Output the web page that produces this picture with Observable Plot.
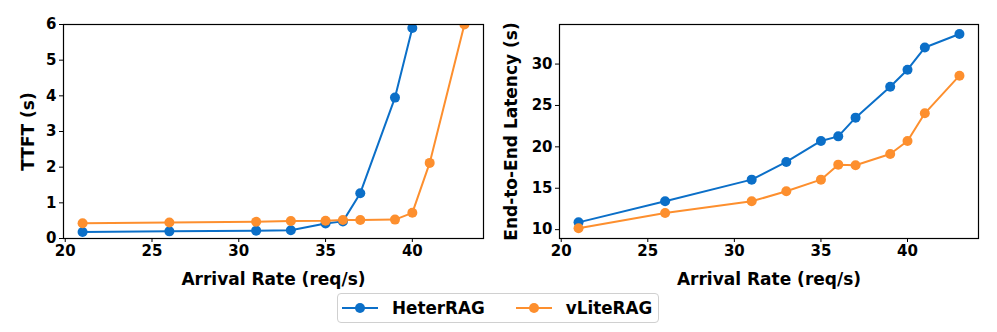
<!DOCTYPE html>
<html>
<head>
<meta charset="utf-8">
<script src="https://cdn.jsdelivr.net/npm/d3@7"></script>
<script src="https://cdn.jsdelivr.net/npm/@observablehq/plot@0.6"></script>
<style>
  html, body { margin: 0; padding: 0; background: #fff; }
  #wrap { width: 997px; height: 332px; position: relative; font-family: "DejaVu Sans", sans-serif; }
  #row { display: flex; flex-direction: row; }
  #row svg g[aria-label="x-axis label"] text, #row svg g[aria-label="y-axis label"] text { font-size: 17px; }
  #legend { position: absolute; left: 337px; top: 293px; width: 322px; height: 30px; box-sizing: border-box;
    border: 1px solid #d0d0d0; border-radius: 4px; display: flex; align-items: center; font-weight: bold; font-size: 16.8px; }
  .item { display: flex; align-items: center; }
  .item svg { display: block; }
</style>
</head>
<body>
<div id="wrap">
  <div id="row"></div>
  <div id="legend"></div>
</div>
<script>
const seriesNames = ["HeterRAG", "vLiteRAG"];
const seriesColors = ["#0b6fc8", "#fd8f2e"];
const arrivalRate = [21, 26, 31, 33, 35, 36, 37, 39, 40, 41, 43];
const ttftHeter = [0.18, 0.20, 0.22, 0.23, 0.42, 0.48, 1.27, 3.95, 5.90, null, null];
const ttftVLite = [0.43, 0.45, 0.47, 0.49, 0.50, 0.52, 0.52, 0.53, 0.72, 2.12, 6.00];
const e2eHeter = [10.88, 13.42, 16.04, 18.18, 20.71, 21.27, 23.53, 27.27, 29.32, 32.0, 33.63];
const e2eVLite = [10.16, 12.00, 13.42, 14.63, 16.04, 17.85, 17.77, 19.14, 20.71, 24.05, 28.60];
const xTicks = [20, 25, 30, 35, 40];
const ttftTicks = [0, 1, 2, 3, 4, 5, 6];
const e2eTicks = [10, 15, 20, 25, 30];

function toRows(vals, name) {
  return arrivalRate.map((x, i) => ({x, y: vals[i], s: name}));
}

function panel({heter, vlite, yDomain, yTicks, yLabel, width, ml, mr, labelOffset}) {
  const rows = [...toRows(heter, seriesNames[0]), ...toRows(vlite, seriesNames[1])].filter(d => d.y != null);
  return Plot.plot({
    width, height: 290,
    marginLeft: ml, marginRight: mr, marginTop: 24, marginBottom: 52,
    style: {fontFamily: "DejaVu Sans", fontSize: "15px", fontWeight: "bold", color: "#000", background: "#fff", overflow: "visible"},
    x: {domain: [19.9, 44.1]},
    y: {domain: yDomain},
    color: {domain: seriesNames, range: seriesColors},
    marks: [
      Plot.axisX({ticks: xTicks, tickFormat: d3.format("d"), tickSize: 4, tickPadding: 3, label: "Arrival Rate (req/s)", labelAnchor: "center", labelArrow: "none", labelOffset: 46}),
      Plot.axisY({ticks: yTicks, tickFormat: d3.format("d"), tickSize: 4, tickPadding: 3, label: yLabel, labelAnchor: "center", labelArrow: "none", labelOffset}),
      Plot.line(rows, {x: "x", y: "y", z: "s", stroke: "s", strokeWidth: 2, clip: true}),
      Plot.dot(rows, {x: "x", y: "y", fill: "s", r: 5, clip: true}),
      Plot.frame({stroke: "#000", strokeWidth: 1.2})
    ]
  });
}

const row = document.getElementById("row");
row.append(panel({heter: ttftHeter, vlite: ttftVLite, yDomain: [0, 6], yTicks: ttftTicks, yLabel: "TTFT (s)", width: 497, ml: 63, mr: 14, labelOffset: 42}));
row.append(panel({heter: e2eHeter, vlite: e2eVLite, yDomain: [8.93, 34.78], yTicks: e2eTicks, yLabel: "End-to-End Latency (s)", width: 500, ml: 62, mr: 19, labelOffset: 55}));

const legend = document.getElementById("legend");
seriesNames.forEach((name, i) => {
  const item = document.createElement("div");
  item.className = "item";
  item.style.marginLeft = i === 0 ? "4px" : "31px";
  item.innerHTML = `<svg width="36" height="12"><line x1="0" y1="6" x2="36" y2="6" stroke="${seriesColors[i]}" stroke-width="2"/><circle cx="18" cy="6" r="5" fill="${seriesColors[i]}"/></svg><span style="margin-left:14px">${name}</span>`;
  legend.append(item);
});
</script>
</body>
</html>
